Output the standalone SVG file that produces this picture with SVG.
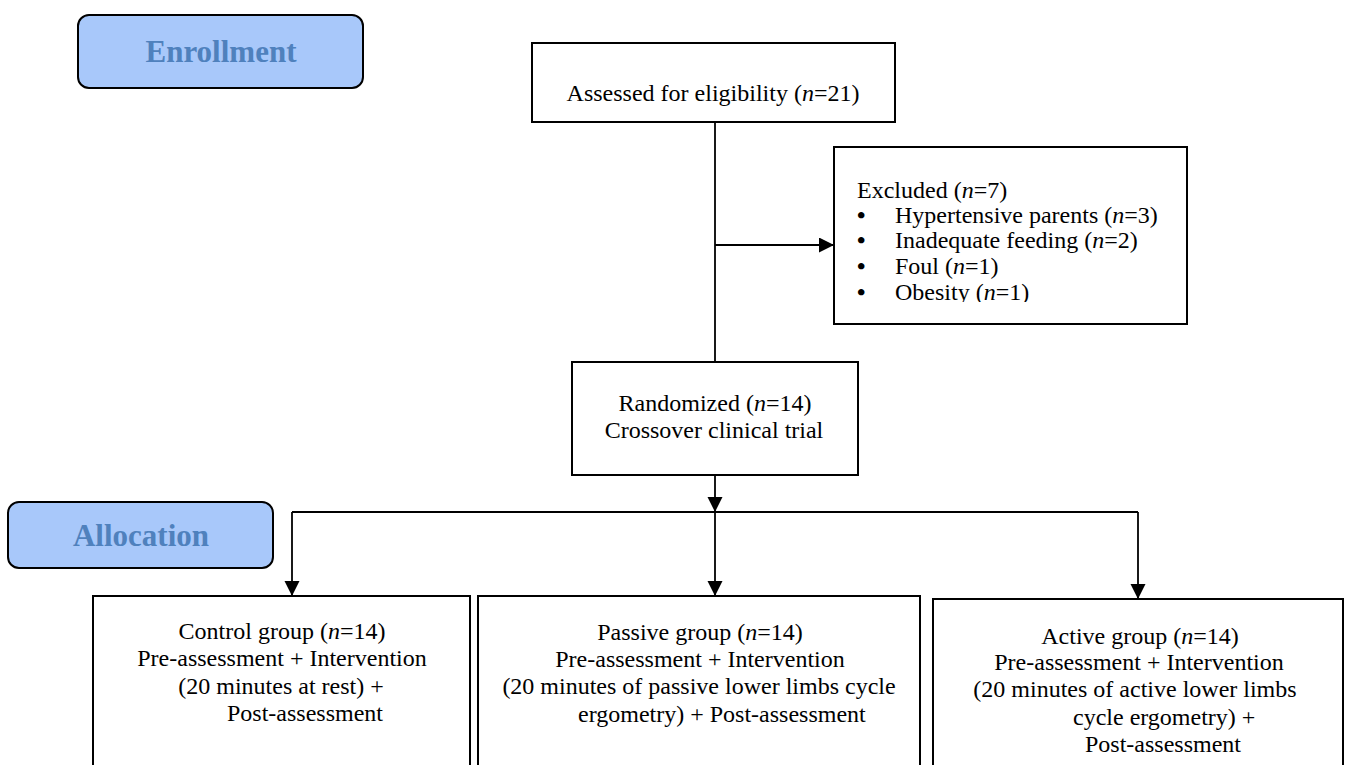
<svg xmlns="http://www.w3.org/2000/svg" width="1348" height="765" viewBox="0 0 1348 765">
<style>
.t{font-family:"Liberation Serif","Times New Roman",serif;font-size:24px;fill:#000}
.b{font-family:"Liberation Serif","Times New Roman",serif;font-size:24px;font-weight:bold;fill:#000}
.c{text-anchor:middle}
.i{font-style:italic}
.box{fill:#fff;stroke:#000;stroke-width:2}
.lab{fill:#A8C8FA;stroke:#000;stroke-width:2}
.labt{font-family:"Liberation Serif","Times New Roman",serif;font-size:31px;font-weight:bold;fill:#4F81BD;text-anchor:middle}
.ln{fill:none;stroke:#000;stroke-width:1.8}
</style>
<defs>
<marker id="ah" markerUnits="userSpaceOnUse" markerWidth="16" markerHeight="16" refX="15" refY="7.5" orient="auto">
<path d="M0,0 L15,7.5 L0,15 Z" fill="#000"/>
</marker>
<clipPath id="exclip"><rect x="834" y="147" width="353" height="155"/></clipPath>
</defs>
<rect width="1348" height="765" fill="#fff"/>

<g id="enrollment">
<rect class="lab" x="78" y="15" width="285" height="73" rx="11"/>
<text class="labt" x="221" y="62">Enrollment</text>
</g>

<g id="allocation">
<rect class="lab" x="8" y="502" width="265" height="66" rx="11"/>
<text class="labt" x="141" y="546">Allocation</text>
</g>

<g id="connectors">
<path class="ln" d="M715,122 V362"/>
<path class="ln" d="M715,245 H834" marker-end="url(#ah)"/>
<path class="ln" d="M715,475 V512" marker-end="url(#ah)"/>
<path class="ln" d="M292,512 H1138"/>
<path class="ln" d="M292,512 V596" marker-end="url(#ah)"/>
<path class="ln" d="M715,512 V596" marker-end="url(#ah)"/>
<path class="ln" d="M1138,512 V599" marker-end="url(#ah)"/>
</g>

<g id="assessed">
<rect class="box" x="532" y="43" width="363" height="79"/>
<text class="t c" x="713" y="101">Assessed for eligibility (<tspan class="i">n</tspan>=21)</text>
</g>

<g id="excluded">
<rect class="box" x="834" y="147" width="353" height="177"/>
<g clip-path="url(#exclip)">
<text class="t" x="857" y="198">Excluded (<tspan class="i">n</tspan>=7)</text>
<text class="b" x="857" y="223">•</text>
<text class="t" x="895" y="223">Hypertensive parents (<tspan class="i">n</tspan>=3)</text>
<text class="b" x="857" y="248">•</text>
<text class="t" x="895" y="248">Inadequate feeding (<tspan class="i">n</tspan>=2)</text>
<text class="b" x="857" y="274">•</text>
<text class="t" x="895" y="274">Foul (<tspan class="i">n</tspan>=1)</text>
<text class="b" x="857" y="300">•</text>
<text class="t" x="895" y="300">Obesity (<tspan class="i">n</tspan>=1)</text>
</g>
</g>

<g id="randomized">
<rect class="box" x="572" y="362" width="286" height="113"/>
<text class="t c" x="715" y="411">Randomized (<tspan class="i">n</tspan>=14)</text>
<text class="t c" x="714" y="438">Crossover clinical trial</text>
</g>

<g id="control">
<rect class="box" x="93" y="596" width="377" height="180"/>
<text class="t c" x="282" y="639">Control group (<tspan class="i">n</tspan>=14)</text>
<text class="t c" x="282" y="666">Pre-assessment + Intervention</text>
<text class="t c" x="281" y="694">(20 minutes at rest) +</text>
<text class="t" x="227" y="721">Post-assessment</text>
</g>

<g id="passive">
<rect class="box" x="478" y="596" width="442" height="180"/>
<text class="t c" x="700" y="640">Passive group (<tspan class="i">n</tspan>=14)</text>
<text class="t c" x="700" y="667">Pre-assessment + Intervention</text>
<text class="t c" x="699" y="694">(20 minutes of passive lower limbs cycle</text>
<text class="t" x="578" y="722">ergometry) + Post-assessment</text>
</g>

<g id="active">
<rect class="box" x="933" y="599" width="410" height="180"/>
<text class="t c" x="1140" y="644">Active group (<tspan class="i">n</tspan>=14)</text>
<text class="t c" x="1139" y="670">Pre-assessment + Intervention</text>
<text class="t c" x="1135" y="697">(20 minutes of active lower limbs</text>
<text class="t" x="1073" y="725">cycle ergometry) +</text>
<text class="t" x="1085" y="752">Post-assessment</text>
</g>
</svg>
